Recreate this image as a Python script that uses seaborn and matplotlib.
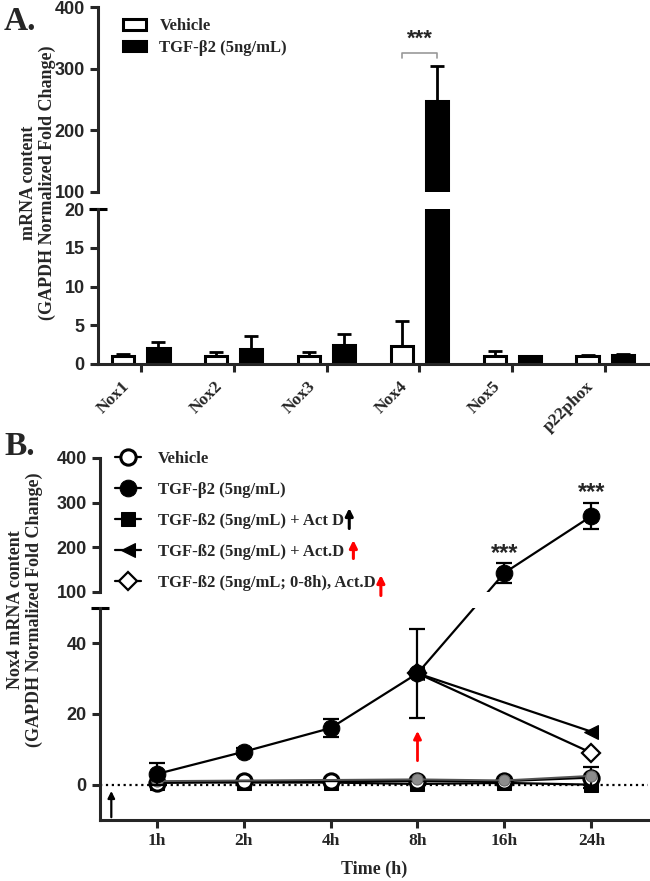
import numpy as np
import pandas as pd
import seaborn as sns
import matplotlib.pyplot as plt
from matplotlib.patches import Patch
from matplotlib.transforms import ScaledTranslation

# Panel A: mRNA of NOX isoforms
genes = ['Nox1', 'Nox2', 'Nox3', 'Nox4', 'Nox5', 'p22phox']
vehicle_mean = [1.0, 1.0, 1.0, 2.3, 1.0, 1.0]
vehicle_err = [0.25, 0.5, 0.5, 3.3, 0.7, 0.15]
tgf_mean = [2.1, 1.9, 2.5, 247, 1.05, 1.1]
tgf_err = [0.8, 1.7, 1.4, 57, 0.0, 0.15]

# Panel B: Nox4 time course
times = ['1h', '2h', '4h', '8h', '16h', '24h']
veh_b = [0.5, 1.0, 1.0, 1.0, 1.0, 2.0]
veh_b_err = [0, 0, 0, 0, 0, 3.0]
tgf_b = [3.0, 9.3, 16.0, 31.5, 143, 270]
tgf_b_err = [3.0, 1.0, 2.5, 12.5, 22, 30]
gray_idx = [0, 3, 4, 5]
gray_b = [1.0, 1.5, 1.2, 2.5]
actd0_b = [0.6, 0.6, 0.6, 0.2, 0.5, 0.0]
actd8_idx = [3, 5]
actd8_b = [31.5, 15]
wash_idx = [3, 5]
wash_b = [31.5, 9]

sns.set_style('ticks')
plt.rcParams['font.family'] = ['Liberation Serif', 'DejaVu Serif']
plt.rcParams['font.weight'] = 'bold'

W, H = 650, 881
fig = plt.figure(figsize=(W / 100, H / 100), dpi=100)


def box(x0, y0, x1, y1):
    # pixel box measured from the top-left of the picture
    return [x0 / W, 1 - y1 / H, (x1 - x0) / W, (y1 - y0) / H]


axA_up = fig.add_axes(box(98, 7, 648, 192))
axA_lo = fig.add_axes(box(98, 209, 648, 364))
axB_up = fig.add_axes(box(100, 458, 648, 592))
axB_lo = fig.add_axes(box(100, 608, 648, 820))

num_font = dict(family='Liberation Sans', weight='bold', size=13)
lab_font = dict(family='Liberation Serif', weight='bold', size=13)
leg_font = dict(family='Liberation Serif', weight='bold', size=12)
LW = 2.2


def style_axis(ax, bottom=True):
    sns.despine(ax=ax, bottom=not bottom)
    for s in ('left', 'bottom'):
        ax.spines[s].set_linewidth(LW)
    ax.tick_params(width=LW, length=6, direction='out')
    if not bottom:
        ax.tick_params(axis='x', bottom=False, labelbottom=False)
    for t in ax.get_yticklabels():
        t.set_fontproperties(num_font)


def top_cap(ax):
    ax.plot([0], [1], marker='_', ms=13, mew=LW, color='black',
            transform=ax.transAxes, clip_on=False)


# ---------------- Panel A ----------------
dfA = pd.DataFrame({
    'gene': genes * 2,
    'group': ['Vehicle'] * len(genes) + ['TGF-β2 (5ng/mL)'] * len(genes),
    'value': vehicle_mean + tgf_mean,
})
pal = {'Vehicle': 'white', 'TGF-β2 (5ng/mL)': 'black'}
xs = np.arange(len(genes))
for ax in (axA_up, axA_lo):
    sns.barplot(data=dfA, x='gene', y='value', hue='group', palette=pal,
                width=0.76, gap=0.37, saturation=1, edgecolor='black',
                linewidth=LW, errorbar=None, legend=False, ax=ax)
    ax.errorbar(xs - 0.19, vehicle_mean, yerr=[np.zeros(6), vehicle_err],
                fmt='none', ecolor='black', elinewidth=2, capsize=5, capthick=2)
    ax.errorbar(xs + 0.19, tgf_mean, yerr=[np.zeros(6), tgf_err],
                fmt='none', ecolor='black', elinewidth=2, capsize=5, capthick=2)
    ax.set_xlim(-0.46, 5.46)
    ax.set_xlabel('')
    ax.set_ylabel('')

axA_up.set_ylim(100, 400)
axA_up.set_yticks([100, 200, 300, 400])
axA_lo.set_ylim(0, 20)
axA_lo.set_yticks([0, 5, 10, 15, 20])
style_axis(axA_up, bottom=False)
style_axis(axA_lo)
top_cap(axA_lo)
axA_lo.set_xticks(xs)
axA_lo.set_xticklabels(genes, rotation=45, ha='right', rotation_mode='anchor',
                       fontsize=12.5, fontweight='bold')
shift = ScaledTranslation(-14 / 72, -1 / 72, fig.dpi_scale_trans)
for t in axA_lo.get_xticklabels():
    t.set_transform(t.get_transform() + shift)

axA_up.legend(handles=[Patch(facecolor='white', edgecolor='black', lw=LW),
                       Patch(facecolor='black', edgecolor='black', lw=LW)],
              labels=['Vehicle', 'TGF-β2 (5ng/mL)'], loc='upper left',
              bbox_to_anchor=(0.045, 0.94), borderaxespad=0, borderpad=0,
              frameon=False, handlelength=1.4, handleheight=0.6,
              handletextpad=0.8, labelspacing=0.35, prop=leg_font)

# significance bracket over Nox4
axA_up.plot([2.81, 2.81, 3.19, 3.19], [317, 325, 325, 317], color='#999999', lw=1.2)
axA_up.text(3, 347, '***', ha='center', va='center', fontsize=16,
            family='Liberation Sans', weight='bold')

fig.text(38 / W, 1 - 183 / H, 'mRNA content\n(GAPDH Normalized Fold Change)',
         rotation=90, ha='center', va='center', ma='center', **lab_font)
fig.text(4 / W, 1 - 22 / H, 'A.', ha='left', va='center',
         family='Liberation Serif', weight='bold', size=24)

# ---------------- Panel B ----------------
xb = np.arange(len(times))
for ax in (axB_up, axB_lo):
    ax.set_xlim(-0.65, 5.65)
axB_up.set_ylim(100, 400)
axB_up.set_yticks([100, 200, 300, 400])
axB_lo.set_ylim(-10, 50)
axB_lo.set_yticks([0, 20, 40])

axB_lo.axhline(0, ls=':', color='black', lw=1.6, zorder=1)

ms = 11
# Act D at 0 h (squares)
sns.lineplot(x=xb, y=actd0_b, ax=axB_lo, color='black', lw=1.6, marker='s',
             ms=ms - 1, mec='black', mfc='black', zorder=2,
             label='TGF-ß2 (5ng/mL) + Act D')
# vehicle (open circles)
sns.lineplot(x=xb, y=veh_b, ax=axB_lo, color='black', lw=1.6, marker='o',
             ms=ms, mec='black', mfc='white', mew=2.2, zorder=3, label='Vehicle')
axB_lo.errorbar(xb, veh_b, yerr=veh_b_err, fmt='none', ecolor='black',
                elinewidth=1.6, capsize=6, capthick=1.6, zorder=3)
# gray points (no legend entry)
sns.lineplot(x=gray_idx, y=gray_b, ax=axB_lo, color='#555555', lw=1.4,
             marker='o', ms=ms - 3, mec='#666666', mfc='#8c8c8c', zorder=4)
# Act D added at 8 h
sns.lineplot(x=actd8_idx, y=actd8_b, ax=axB_lo, color='black', lw=1.6,
             marker='<', ms=ms - 1, mec='black', mfc='black', zorder=2,
             label='TGF-ß2 (5ng/mL) + Act.D')
sns.lineplot(x=wash_idx, y=wash_b, ax=axB_lo, color='black', lw=1.6,
             marker='D', ms=ms - 2, mec='black', mfc='white', mew=1.6, zorder=2,
             label='TGF-ß2 (5ng/mL; 0-8h), Act.D')
# TGF-b2: lower part 1h-8h, upper part 16h-24h
sns.lineplot(x=xb[:4], y=tgf_b[:4], ax=axB_lo, color='black', lw=1.6,
             marker='o', ms=ms + 1, mec='black', mfc='black', zorder=5,
             label='TGF-β2 (5ng/mL)')
axB_lo.errorbar(xb[:4], tgf_b[:4], yerr=tgf_b_err[:4], fmt='none',
                ecolor='black', elinewidth=1.6, capsize=6, capthick=1.6, zorder=5)
sns.lineplot(x=xb[4:], y=tgf_b[4:], ax=axB_up, color='black', lw=1.6,
             marker='o', ms=ms + 1, mec='black', mfc='black', zorder=5)
axB_up.errorbar(xb[4:], tgf_b[4:], yerr=tgf_b_err[4:], fmt='none',
                ecolor='black', elinewidth=1.6, capsize=6, capthick=1.6, zorder=5)

# 8h -> 16h segment crosses the axis break: straight on the page
p0 = axB_lo.transData.transform((xb[3], tgf_b[3]))
p1 = axB_up.transData.transform((xb[4], tgf_b[4]))
for ax in (axB_lo, axB_up):
    a0 = ax.transAxes.inverted().transform(p0)
    a1 = ax.transAxes.inverted().transform(p1)
    ax.plot([a0[0], a1[0]], [a0[1], a1[1]], transform=ax.transAxes,
            color='black', lw=1.6, clip_on=True, zorder=4)

for i in (4, 5):
    axB_up.annotate('***', (xb[i], tgf_b[i] + tgf_b_err[i]), xytext=(0, 7),
                    textcoords='offset points', ha='center', va='center',
                    fontsize=17, family='Liberation Sans', weight='bold')

# arrows for Act D addition
axB_lo.annotate('', xy=(-0.52, -1), xytext=(-0.52, -10),
                arrowprops=dict(arrowstyle='-|>', color='black', lw=1.6,
                                mutation_scale=10))
axB_lo.annotate('', xy=(3, 16), xytext=(3, 6),
                arrowprops=dict(arrowstyle='-|>', color='red', lw=2,
                                mutation_scale=11))

style_axis(axB_up, bottom=False)
style_axis(axB_lo)
top_cap(axB_lo)
axB_lo.set_xticks(xb)
axB_lo.set_xticklabels(times, fontsize=12.5, fontweight='bold')
axB_lo.set_xlabel('Time (h)', labelpad=8, **lab_font)
axB_lo.set_ylabel('')

handles, labels = axB_lo.get_legend_handles_labels()
axB_lo.get_legend().remove()
order = ['Vehicle', 'TGF-β2 (5ng/mL)', 'TGF-ß2 (5ng/mL) + Act D',
         'TGF-ß2 (5ng/mL) + Act.D', 'TGF-ß2 (5ng/mL; 0-8h), Act.D']
hmap = dict(zip(labels, handles))
legB = axB_up.legend([hmap[k] for k in order], order, loc='upper left',
                     bbox_to_anchor=(0.027, 1.05), borderaxespad=0, borderpad=0,
                     frameon=False, handlelength=1.6, handletextpad=1.0,
                     labelspacing=0.9, prop=leg_font)

fig.text(25 / W, 1 - 610 / H, 'Nox4 mRNA content\n(GAPDH Normalized Fold Change)',
         rotation=90, ha='center', va='center', ma='center', **lab_font)
fig.text(4 / W, 1 - 446 / H, 'B.', ha='left', va='center',
         family='Liberation Serif', weight='bold', size=24)

# small arrows after the Act D legend entries
fig.canvas.draw()
renderer = fig.canvas.get_renderer()
texts = legB.get_texts()
for idx, col, dx, below, above in ((2, 'black', 5, 2, 8), (3, 'red', 9, 1, 7),
                                   (4, 'red', 5, 7, 3)):
    bb = texts[idx].get_window_extent(renderer)
    x = bb.x1 + dx
    fig.add_artist(plt.Annotation('', xy=(x, bb.y1 + above), xytext=(x, bb.y0 - below),
                                  xycoords='figure pixels', textcoords='figure pixels',
                                  arrowprops=dict(arrowstyle='-|>', color=col, lw=2.2,
                                                  mutation_scale=11)))

fig.savefig('out.png', dpi=100)
